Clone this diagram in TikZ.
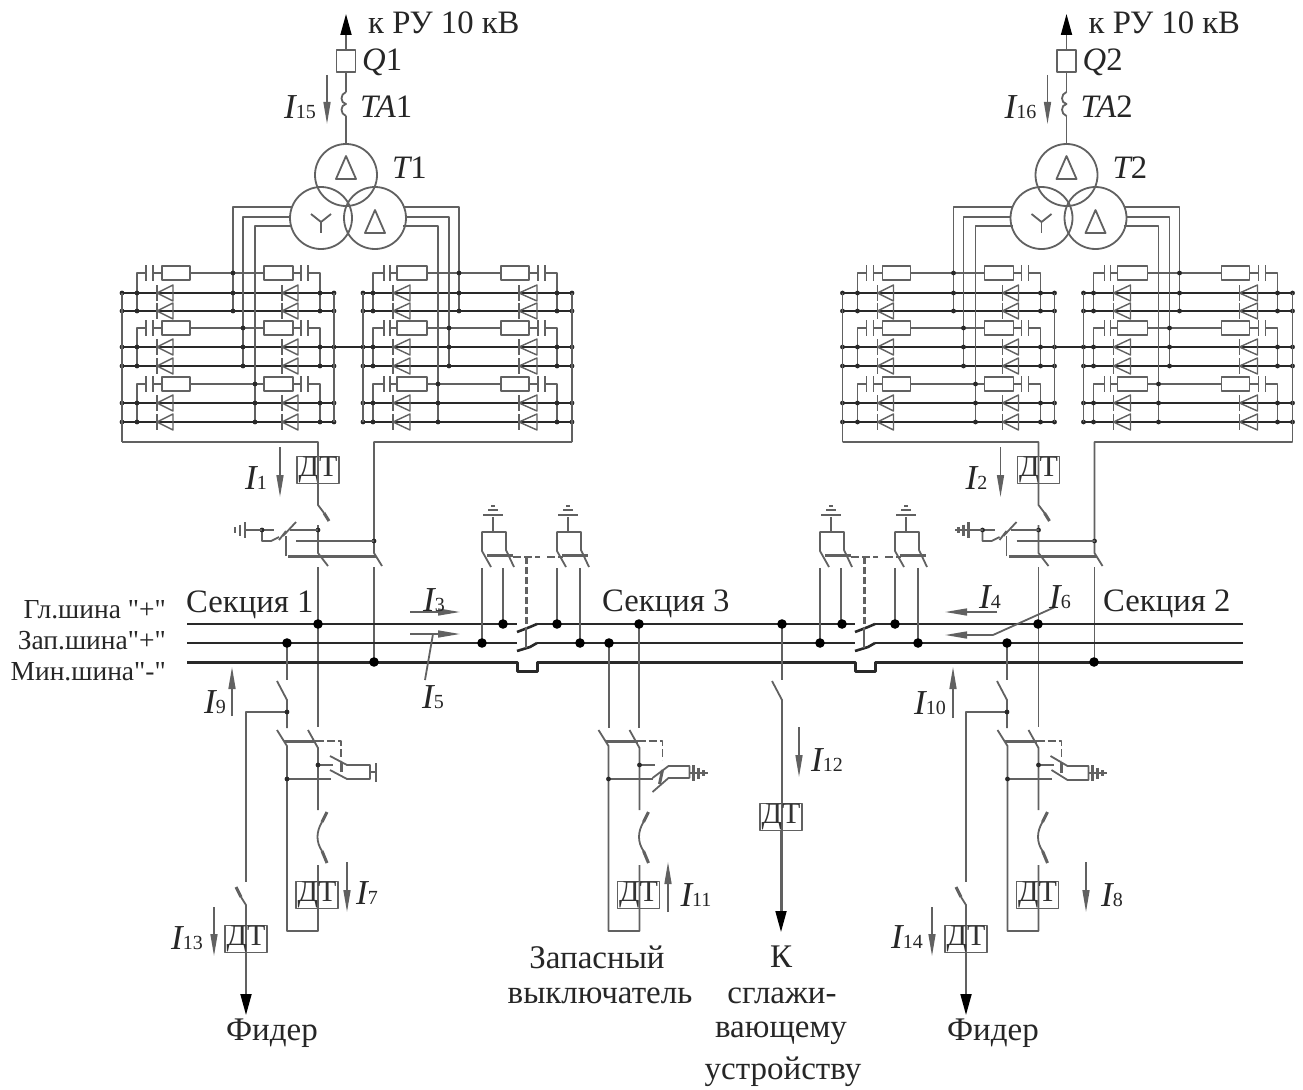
\documentclass[tikz,border=0pt]{standalone}
\usepackage{fontspec}
\setmainfont{Liberation Serif}
\newfontfamily\plainqf{Liberation Serif}
\usetikzlibrary{arrows.meta}
\definecolor{ln}{gray}{0.38}
\definecolor{bs}{gray}{0.16}
\tikzset{
  base/.style={draw=ln,line width=1.8pt},
  thin/.style={draw=ln,line width=1.4pt},
  bus/.style={draw=bs,line width=2.6pt},
  busb/.style={draw=bs,line width=3pt},
  thk/.style={draw=ln,line width=3pt},
  dsh/.style={draw=ln,line width=1.8pt,dash pattern=on 8pt off 3pt},
  dshb/.style={draw=ln,line width=3pt,dash pattern=on 7pt off 3pt},
  curr/.style={draw=ln,line width=1.5pt,-{Triangle[length=22pt,width=7pt,fill=ln]}},
  bigarr/.style={draw=ln,line width=1.8pt,-{Triangle[length=21pt,width=11pt,fill=black,color=black]}},
  lab/.style={font=\fontsize{32.7}{35}\selectfont,inner sep=0pt,text=black!85},
  blab/.style={font=\fontsize{27.5}{29}\selectfont,inner sep=0pt,text=black!85},
  tlab/.style={font=\fontsize{33}{35}\selectfont,inner sep=0pt,text=black!85},
  dtbox/.style={draw=ln,line width=1.6pt,minimum width=42pt,minimum height=27pt,inner sep=0pt,font=\fontsize{30}{30}\selectfont,text=black!80}
}
\newcommand\Isub[1]{{\fontsize{35}{35}\selectfont\itshape I}{\fontsize{20}{20}\selectfont #1}}
\newcommand\sdot[2]{\fill[bs] (#1,#2) circle (2.4);}
\newcommand\bdot[2]{\fill[black] (#1,#2) circle (4.8);}
\newcommand\earth[3]{%
  \draw[base] (#1,#2-8)--(#1,#2+8);
  \draw[base] ({#1+#3*5},#2-5.5)--({#1+#3*5},#2+5.5);
  \draw[base] ({#1+#3*10},#2-3)--({#1+#3*10},#2+3);}
\newcommand\earthbold[3]{%
  \draw[draw=ln,line width=2.6pt] (#1,#2-8)--(#1,#2+8);
  \draw[draw=ln,line width=2.6pt] ({#1+#3*5},#2-5.5)--({#1+#3*5},#2+5.5);
  \draw[draw=ln,line width=2.6pt] ({#1+#3*10},#2-3)--({#1+#3*10},#2+3);
  \draw[draw=ln,line width=2pt] (#1,#2)--({#1+#3*14},#2);}
\newcommand\Rectifier[1]{%
\begin{scope}[xshift=#1pt]
\foreach \rl/\rr/\sl/\sr/\ca/\cb/\ra/\rb/\rc/\rd/\cc/\cd/\da/\db/\dc/\dd in
 {122/334/137/320/146/153/162/190/264/293/301/308/157/173/282/298,
  363/572/373/557/384/390/397/427/501/529/538/545/393/410/519/537}{
 \foreach \ys/\ya/\yb in {273/293/311,328/347/366,384/403/422}{
  \draw[base] (\sl,\yb)--(\sl,\ys)--(\ca,\ys);
  \draw[base] (\ca,\ys-8)--(\ca,\ys+8);
  \draw[base] (\cb,\ys-8)--(\cb,\ys+8);
  \draw[base] (\cb,\ys)--(\ra,\ys);
  \draw[base] (\ra,\ys-7) rectangle (\rb,\ys+7);
  \draw[base] (\rb,\ys)--(\rc,\ys);
  \draw[base] (\rc,\ys-7) rectangle (\rd,\ys+7);
  \draw[base] (\rd,\ys)--(\cc,\ys);
  \draw[base] (\cc,\ys-8)--(\cc,\ys+8);
  \draw[base] (\cd,\ys-8)--(\cd,\ys+8);
  \draw[base] (\cd,\ys)--(\sr,\ys)--(\sr,\yb);
  \draw[draw=bs,line width=1.7pt] (\rl,\ya)--(\rr,\ya);
  \draw[draw=bs,line width=1.7pt] (\rl,\yb)--(\rr,\yb);
  \foreach \yy in {\ya,\yb}{
   \draw[thin] (\db,\yy-8)--(\db,\yy+8)--(\da,\yy)--cycle;
   \draw[thin] (\da,\yy-8)--(\da,\yy+8);
   \draw[thin] (\dd,\yy-8)--(\dd,\yy+8)--(\dc,\yy)--cycle;
   \draw[thin] (\dc,\yy-8)--(\dc,\yy+8);
   \sdot{\rl}{\yy}\sdot{\rr}{\yy}\sdot{\sl}{\yy}\sdot{\sr}{\yy}
  }
 }
}
\draw[base] (122,293)--(122,442);
\draw[base] (334,293)--(334,422);
\draw[base] (363,293)--(363,422);
\draw[base] (572,293)--(572,442);
\draw[draw=bs,line width=1.7pt] (334,347)--(363,347);
\draw[base] (292,207)--(233,207)--(233,311);
\draw[base] (290,217)--(243,217)--(243,366);
\draw[base] (292,226)--(255,226)--(255,422);
\draw[base] (403,207)--(459,207)--(459,311);
\draw[base] (405,217)--(449,217)--(449,366);
\draw[base] (403,226)--(438,226)--(438,422);
\foreach \px/\py in {233/273,233/293,233/311,243/328,243/347,243/366,255/384,255/403,255/422,
                     459/273,459/293,459/311,449/328,449/347,449/366,438/384,438/403,438/422}{\sdot{\px}{\py}}
\end{scope}}
\newcommand\Tsec[6]{%
\begin{scope}[xshift=#1pt]
\draw[bigarr] (346,50)--(346,14);
\node[draw=ln,line width=1.6pt,minimum width=19pt,minimum height=22pt,inner sep=0pt] (#2q) at (346,61) {};
\draw[base] (#2q.south)--(346,92);
\draw[base] (346,92) .. controls (340,94) and (340,103) .. (346,104) .. controls (340,105) and (340,114) .. (346,116);
\draw[base] (346,116)--(346,144);
\node[lab,anchor=west] (#2qlab) at (362,62) {{\itshape Q}#3};
\node[lab,anchor=west] (#2talab) at (360,107) {{\itshape TA}#3};
\node[lab,anchor=west] (#2tlab) at (392,168) {{\itshape T}#3};
\node[lab,anchor=west] (#2top) at (368,23) {к РУ 10 кВ};
\draw[curr] (327,75)--(327,124);
\node[lab,anchor=west] (#2i) at (284,107) {\Isub{#4}};
\draw[base] (346,175) circle (31);
\draw[base] (321,218) circle (31);
\draw[base] (375,218) circle (31);
\draw[base] (346,156)--(356,179)--(336,179)--cycle;
\draw[base] (375,210)--(385,233)--(365,233)--cycle;
\draw[base] (311,214)--(321,222)--(331,214);
\draw[base] (321,222)--(321,233);
\node[dtbox] (#2dt) at (318,470) {ДТ};
\draw[base] (122,442)--(318,442)--(318,505)--(324,513);
\draw[thk] (324,513)--(329,521);
\draw[base] (572,442)--(374,442)--(374,553)--(382,566);
\draw[base] (374,567)--(374,662);
\draw[curr] (280,447)--(280,497);
\node[lab,anchor=west] (#2ione) at (245,478) {\Isub{#5}};
\draw[base] (318,525)--(318,553)--(328,566);
\draw[base] (318,567)--(318,727);
\sdot{318}{530}\sdot{374}{541}
\draw[base] (296,541)--(374,541);
\draw[thk] (288,556)--(376,556);
\draw[base] (286,556)--(286,536);
\draw[base] (283,536)--(296,522);
\draw[base] (279,540)--(286,531);
\draw[base] (290,530)--(318,530);
\draw[base] (262,530)--(274,530);
\draw[base] (262,530)--(262,541)--(271,541)--(279,537);
\sdot{262}{530}
#6
\end{scope}}
\newcommand\Jump[1]{%
\begin{scope}[xshift=#1pt]
\draw[base] (493,532)--(493,517);
\draw[base] (483,515)--(503,515);
\draw[base] (488,510)--(498,510);
\draw[base] (491,506)--(495,506);
\draw[base] (491,567)--(482,551)--(482,532)--(506,532)--(506,550)--(514,567);
\draw[thk] (487,555)--(513,555);
\end{scope}}
\newcommand\Feed[2]{%
\begin{scope}[xshift=#1pt]
\draw[base] (277,730)--(287,746)--(287,931)--(318,931)--(318,865);
\draw[base] (308,730)--(318,748)--(318,810);
\draw[thk] (284,741)--(316,741);
\draw[dsh] (316,741)--(341,741)--(341,760);
\draw[base] (318,765)--(333,765);
\sdot{318}{765}
\draw[base] (287,779)--(331,779);
\sdot{287}{779}
\draw[thk] (327,812)--(322,822);
\draw[base] (322,822) .. controls (316,832) and (316,842) .. (322,851);
\draw[thk] (322,851)--(327,863);
\node[dtbox] (fd#1) at (317,895) {ДТ};
#2
\end{scope}}
\begin{document}
\begin{tikzpicture}[x=1pt,y=-1pt,line join=round]
\useasboundingbox (0,0) rectangle (1303,1089);
\fill[white] (0,0) rectangle (1303,1089);

\Rectifier{0}
\Rectifier{720.5}
\Tsec{0}{a}{1}{15}{1}{\draw[base] (246,530)--(262,530);\earth{245}{530}{-1}}
\Tsec{720.5}{b}{2}{16}{2}{\draw[base] (248,530)--(262,530);\earthbold{248}{530}{-1}}

\draw[bus] (187,624)--(517,624);
\draw[bus] (537,624)--(855,624);
\draw[bus] (875,624)--(1243,624);
\draw[bus] (187,643)--(517,643);
\draw[bus] (537,643)--(855,643);
\draw[bus] (875,643)--(1243,643);
\draw[busb] (187,662)--(517,662)--(517,671)--(537,671)--(537,662)--(855,662)--(855,671)--(875,671)--(875,662)--(1243,662);
\foreach \sx in {0,338}{
 \begin{scope}[xshift=\sx pt]
  \draw[bus] (517,632)--(530,627)--(537,624);
  \draw[bus] (517,651)--(530,647)--(537,643);
  \draw[dshb] (526,557)--(526,627);
  \draw[base] (526,627)--(526,648);
  \draw[dsh] (513,557)--(540,557);
  \draw[dsh] (547,557)--(563,557);
  \draw[base] (482,568)--(482,643);
  \draw[base] (503,568)--(503,624);
  \draw[base] (557,568)--(557,624);
  \draw[base] (580,568)--(580,643);
 \end{scope}}
\Jump{0}\Jump{75}\Jump{338}\Jump{413}

\draw[base] (287,643)--(287,680);
\draw[base] (277,681)--(287,700)--(287,728);
\draw[base] (287,712)--(246,712)--(246,882);
\sdot{287}{712}
\draw[thk] (236,887)--(241,897);
\draw[base] (241,897)--(246,905)--(246,994);
\node[dtbox] (dtf1) at (246,939) {ДТ};
\draw[bigarr] (246,953)--(246,1015);
\draw[base] (1007,643)--(1007,680);
\draw[base] (997,681)--(1007,700)--(1007,728);
\draw[base] (1007,712)--(966,712)--(966,882);
\sdot{1007}{712}
\draw[thk] (956,887)--(961,897);
\draw[base] (961,897)--(966,905)--(966,994);
\node[dtbox] (dtf2) at (966,939) {ДТ};
\draw[bigarr] (966,953)--(966,1015);
\draw[base] (609,643)--(609,728);
\draw[base] (639,624)--(639,728);
\draw[base] (782,624)--(782,680);
\draw[base] (772,681)--(782,700)--(782,912);
\node[dtbox] (dtk) at (781,817) {ДТ};
\draw[bigarr] (781,830)--(781,932);

\Feed{0}{\draw[base] (330,756)--(347,765)--(370,765)--(370,779)--(347,779)--(330,770);
 \draw[thk] (341,762)--(341,772);
 \draw[base] (370,772)--(376,772);\draw[base] (376,763)--(376,782);}
\Feed{321.5}{\draw[base] (331,792)--(347,778)--(368,778);
 \draw[base] (331,778)--(347,766)--(368,766)--(368,778);
 \draw[thk] (341,770)--(338,784);
 \draw[base] (368,773)--(372,773);\earthbold{372}{773}{1}}
\Feed{720.5}{\draw[base] (330,756)--(347,766)--(368,766)--(368,780)--(347,780)--(331,770);
 \draw[thk] (341,762)--(341,773);
 \draw[base] (368,773)--(372,773);\earthbold{372}{773}{1}}

\foreach \dx/\dy in {318/624,287/643,374/662,482/643,503/624,557/624,580/643,609/643,639/624,
 782/624,820/643,842/624,895/624,918/643,1007/643,1038/624,1094/662}{\bdot{\dx}{\dy}}

\draw[curr] (232,716)--(232,667);
\draw[curr] (953,718)--(953,667);
\draw[curr] (347,862)--(347,912);
\draw[curr] (668,912)--(668,862);
\draw[curr] (1086,862)--(1086,912);
\draw[curr] (799,727)--(799,777);
\draw[curr] (214,907)--(214,956);
\draw[curr] (932,907)--(932,956);
\draw[curr] (410,612)--(460,612);
\draw[curr] (410,634)--(460,634);
\draw[curr] (997,612)--(945,612);
\draw[curr] (993,635)--(945,635);
\draw[base] (433,634)--(425,680);
\draw[base] (993,635)--(1055,607);

\node[blab,anchor=east] (l1) at (166,610) {\plainqf Гл.шина "+"};
\node[blab,anchor=east] (l2) at (166,641) {\plainqf Зап.шина"+"};
\node[blab,anchor=east] (l3) at (166,672) {\plainqf Мин.шина"-"};
\node[lab,anchor=west] (s1) at (186,605) {Секция 1};
\node[lab,anchor=west] (s3) at (602,604) {Секция 3};
\node[lab,anchor=west] (s2) at (1103,604) {Секция 2};
\node[lab] (i3) at (434,600) {\Isub{3}};
\node[lab] (i5) at (433,697) {\Isub{5}};
\node[lab] (i4) at (990,597) {\Isub{4}};
\node[lab] (i6) at (1060,597) {\Isub{6}};
\node[lab] (i9) at (215,702) {\Isub{9}};
\node[lab] (i10) at (930,703) {\Isub{10}};
\node[lab] (i7) at (367,893) {\Isub{7}};
\node[lab] (i13) at (187,938) {\Isub{13}};
\node[lab] (i14) at (907,937) {\Isub{14}};
\node[lab] (i11) at (696,895) {\Isub{11}};
\node[lab] (i12) at (827,760) {\Isub{12}};
\node[lab] (i8) at (1112,895) {\Isub{8}};
\node[tlab] (t1) at (597,957) {Запасный};
\node[tlab] (t2) at (600,996) {выключатель};
\node[tlab] (t3) at (781,957) {К};
\node[tlab] (t4) at (782,996) {сглажи-};
\node[tlab] (t5) at (781,1033) {вающему};
\node[tlab] (t6) at (783,1072) {устройству};
\node[tlab] (t7) at (272,1033) {Фидер};
\node[tlab] (t8) at (993,1033) {Фидер};
\end{tikzpicture}
\end{document}
